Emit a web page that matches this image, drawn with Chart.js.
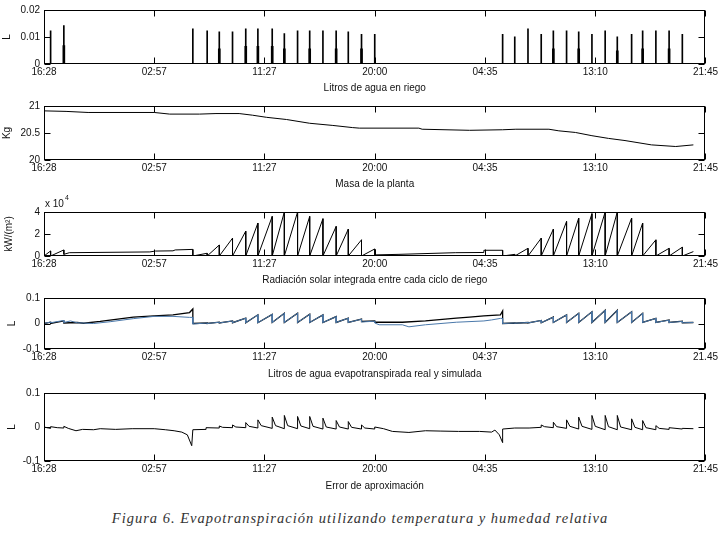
<!DOCTYPE html>
<html>
<head>
<meta charset="utf-8">
<script src="https://cdn.jsdelivr.net/npm/chart.js@4.4.0/dist/chart.umd.min.js"></script>
<style>
  body { margin: 0; background: #fff; }
  #fig { position: relative; width: 720px; height: 534px; }
  canvas { position: absolute; left: 0; }
  #pie { position: absolute; left: 0; top: 510px; width: 720px; text-align: center;
         font: italic 14.5px "Liberation Serif", serif; letter-spacing: 1px; color: #333; }
</style>
</head>
<body>
<div id="fig">
  <canvas id="g1" width="720" height="94" style="top:0px"></canvas>
  <canvas id="g2" width="720" height="94" style="top:96px"></canvas>
  <canvas id="g3" width="720" height="94" style="top:192px"></canvas>
  <canvas id="g4" width="720" height="92" style="top:288px"></canvas>
  <canvas id="g5" width="720" height="109" style="top:383px"></canvas>
  <div id="pie">Figura 6. Evapotranspiración utilizando temperatura y humedad relativa</div>
</div>
<script>
// eje de tiempo: indice de muestra 0..600, etiquetas cada 100
const posHoras = [0, 100, 200, 300, 400, 500, 600];
const horas = ['16:28', '02:57', '11:27', '20:00', '04:35', '13:10', '21:45'];
const horasEt = ['16:28', '02:57', '11:27', '20:00', '04:37', '13:10', '21.45'];

// litros de agua en riego
const riegoT = [6, 18, 135, 148, 159, 171, 183, 194, 207, 218, 230, 241, 253, 265, 276, 288, 300,
  416, 427, 439, 451, 462, 474, 485, 497, 509, 520, 533, 543, 555, 567, 579];
const riegoL = [0.0123, 0.0142, 0.013, 0.0123, 0.0119, 0.0119, 0.013, 0.013, 0.013, 0.0113, 0.0123,
  0.0123, 0.0123, 0.0123, 0.0119, 0.011, 0.011, 0.011, 0.0101, 0.013, 0.011, 0.0123, 0.0123, 0.0119,
  0.011, 0.0123, 0.0101, 0.011, 0.0123, 0.0123, 0.0123, 0.011];
const riegoL2 = [null, 0.0068, null, null, 0.0056, null, 0.0065, 0.0065, 0.0065, 0.0056, null, 0.0056,
  null, 0.0056, null, 0.0056, null, null, null, null, null, 0.0056, null, 0.0056, null, null, 0.0049,
  null, 0.0056, null, 0.0056, null];
const ticksRiego = [0, 0.01, 0.02];

// masa de la planta
const masaT = [0, 20, 40, 100, 114, 141, 156, 177, 189, 202, 220, 241, 262, 280, 286, 340, 343, 386,
  416, 428, 458, 467, 482, 497, 512, 527, 551, 573, 589];
const masaKg = [20.91, 20.9, 20.88, 20.88, 20.85, 20.85, 20.86, 20.86, 20.83, 20.79, 20.75, 20.68,
  20.64, 20.6, 20.59, 20.59, 20.57, 20.55, 20.56, 20.57, 20.57, 20.54, 20.51, 20.45, 20.4, 20.36,
  20.28, 20.25, 20.28];
const ticksMasa = [20, 20.5, 21];

// radiacion solar integrada
const radT = [0, 6, 6, 18, 18, 23, 96, 101, 117, 119, 135, 135, 148, 148, 159, 159, 171, 171, 183, 183,
  194, 194, 207, 207, 218, 218, 230, 230, 241, 241, 253, 253, 265, 265, 276, 276, 288, 288, 300, 300,
  322, 373, 399, 399, 416, 416, 427, 427, 439, 439, 451, 451, 462, 462, 474, 474, 485, 485, 497, 497,
  509, 509, 520, 520, 533, 533, 543, 543, 555, 555, 567, 567, 579, 579, 589];
const radW = [0, 4600, 0, 5500, 1500, 3000, 3700, 4500, 4700, 5500, 6000, 0, 2500, 0, 10000, 0, 16200, 0,
  22600, 0, 29900, 0, 36000, 0, 40000, 0, 40000, 0, 36000, 0, 33900, 0, 26900, 0, 24400, 0, 14700, 0,
  6400, 1000, 1500, 3000, 3200, 5200, 5200, 0, 1500, 0, 7000, 0, 16200, 0, 24400, 0, 31400, 0, 34500, 0,
  38500, 0, 40000, 0, 40000, 0, 34500, 0, 30000, 0, 14700, 0, 7000, 0, 8000, 0, 4000];
const ticksRad = [0, 20000, 40000];

// evapotranspiracion real y simulada
const etRealT = [0, 6, 6, 18, 18, 30, 36, 51, 81, 100, 117, 132, 135, 135, 148, 148, 159, 159, 171, 171,
  183, 183, 194, 194, 207, 207, 218, 218, 230, 230, 241, 241, 253, 253, 265, 265, 276, 276, 288, 288,
  300, 300, 325, 346, 374, 386, 399, 414, 416, 416, 427, 427, 439, 439, 451, 451, 462, 462, 474, 474,
  485, 485, 497, 497, 509, 509, 520, 520, 533, 533, 543, 543, 555, 555, 567, 567, 579, 579, 589];
const etRealL = [0, 0.005, 0, 0.01, 0.002, 0.004, 0.001, 0.008, 0.025, 0.03, 0.034, 0.043, 0.057, 0,
  0.002, 0, 0.005, 0.002, 0.01, 0.003, 0.021, 0.003, 0.034, 0.003, 0.036, 0.004, 0.04, 0.004, 0.04, 0.004,
  0.036, 0.004, 0.034, 0.004, 0.027, 0.004, 0.021, 0.004, 0.017, 0.008, 0.01, 0.005, 0.005, 0.01, 0.021,
  0.025, 0.03, 0.034, 0.049, 0, 0.002, 0.001, 0.004, 0.002, 0.012, 0.003, 0.025, 0.004, 0.034, 0.004,
  0.04, 0.004, 0.046, 0.004, 0.052, 0.004, 0.052, 0.004, 0.046, 0.004, 0.04, 0.004, 0.02, 0.004, 0.014,
  0.004, 0.009, 0.003, 0.004];
const etSimT = [0, 6, 6, 18, 18, 24, 30, 45, 60, 81, 100, 117, 132, 135, 135, 148, 148, 159, 159, 171, 171,
  183, 183, 194, 194, 207, 207, 218, 218, 230, 230, 241, 241, 253, 253, 265, 265, 276, 276, 288, 288,
  300, 300, 304, 325, 331, 346, 374, 399, 406, 414, 416, 416, 427, 427, 439, 439, 451, 451, 462, 462,
  474, 474, 485, 485, 497, 497, 509, 509, 520, 520, 533, 533, 543, 543, 555, 555, 567, 567, 579, 579, 589];
const etSimL = [0, 0.006, 0.003, 0.012, 0.004, 0.01, 0.003, 0, 0.007, 0.019, 0.028, 0.028, 0.024, 0.024,
  -0.002, 0.002, 0, 0.005, 0.002, 0.01, 0.003, 0.021, 0.003, 0.034, 0.003, 0.036, 0.004, 0.04, 0.004,
  0.04, 0.004, 0.036, 0.004, 0.034, 0.004, 0.027, 0.004, 0.021, 0.004, 0.017, 0.006, 0.009, 0.002,
  -0.005, -0.005, -0.013, -0.005, 0.005, 0.01, 0.014, 0.02, 0.02, 0, 0.002, 0.001, 0.004, 0.002, 0.012,
  0.003, 0.025, 0.004, 0.034, 0.004, 0.04, 0.004, 0.046, 0.004, 0.052, 0.004, 0.052, 0.004, 0.046, 0.004,
  0.04, 0.004, 0.02, 0.004, 0.013, 0.004, 0.008, 0.003, 0.004];
const ticksEt = [-0.1, 0, 0.1];

// error de aproximacion
const errT = [0, 4, 6, 6, 12, 18, 18, 22, 29, 35, 45, 51, 65, 80, 100, 110, 118, 125, 130, 134, 135, 147, 147,
  159, 159, 162, 171, 171, 174, 183, 183, 186, 194, 194, 197, 207, 207, 210, 218, 218, 221, 230, 230, 233,
  241, 241, 244, 253, 253, 256, 265, 265, 268, 276, 276, 279, 288, 288, 291, 300, 300,
  308, 316, 331, 346, 360, 376, 395, 406, 409, 413, 416, 416,
  427, 440, 451, 451, 454, 462, 462, 465, 474, 474, 477, 485, 485, 488, 497, 497, 500, 509, 509, 512,
  520, 520, 523, 533, 533, 536, 543, 543, 546, 555, 555, 558, 567, 567, 579, 579, 589];
const errL = [0, -0.003, -0.004, 0.001, -0.002, -0.003, 0.002, -0.004, -0.011, -0.007, -0.008, -0.005,
  -0.007, -0.005, -0.005, -0.008, -0.011, -0.015, -0.023, -0.055, -0.008, -0.007, -0.002,
  -0.003, 0.003, -0.001, -0.002, 0.006, 0, -0.002, 0.013, 0.002, -0.003, 0.021, 0.004, -0.004, 0.029, 0.004,
  -0.005, 0.034, 0.004, -0.005, 0.031, 0.003, -0.005, 0.031, 0.002, -0.006, 0.026, 0, -0.006, 0.019, 0,
  -0.006, 0.016, -0.001, -0.006, 0.006, -0.003, -0.006, 0,
  -0.005, -0.013, -0.016, -0.011, -0.012, -0.013, -0.013, -0.015, -0.009, -0.023, -0.046, -0.006,
  -0.003, -0.003, -0.001, 0.006, 0.001, -0.002, 0.014, 0.001, -0.004, 0.021, 0.002, -0.006, 0.029, 0.002,
  -0.007, 0.034, 0.002, -0.008, 0.034, 0.001, -0.008, 0.034, 0, -0.008, 0.024, -0.001, -0.008, 0.019,
  -0.002, -0.008, 0.004, -0.004, -0.007, -0.002, -0.006, -0.004, -0.005];

Chart.defaults.font.family = '"Liberation Sans", Arial, sans-serif';
Chart.defaults.font.size = 10;
Chart.defaults.color = '#111';

// caja estilo matlab con marcas hacia dentro
const marco = {
  id: 'marco',
  afterDraw(chart, args, opts) {
    const { ctx, chartArea: a, scales: { x, y } } = chart;
    const L = Math.round(a.left) + 0.5, R = Math.round(a.right) - 0.5;
    const T = Math.round(a.top) + 0.5, B = Math.round(a.bottom) - 0.5;
    const len = 6;
    ctx.save();
    ctx.strokeStyle = '#000';
    ctx.lineWidth = 1;
    ctx.strokeRect(L, T, R - L, B - T);
    ctx.beginPath();
    x.ticks.forEach(t => {
      const px = Math.round(x.getPixelForValue(t.value)) + 0.5;
      ctx.moveTo(px, T); ctx.lineTo(px, T + len);
      ctx.moveTo(px, B); ctx.lineTo(px, B - len);
    });
    y.ticks.forEach(t => {
      const py = Math.round(y.getPixelForValue(t.value)) + 0.5;
      ctx.moveTo(L, py); ctx.lineTo(L + len, py);
      ctx.moveTo(R, py); ctx.lineTo(R - len, py);
    });
    ctx.stroke();
    if (opts.exp) {
      ctx.fillStyle = '#111';
      ctx.textAlign = 'left';
      ctx.textBaseline = 'alphabetic';
      ctx.font = '10px "Liberation Sans"';
      ctx.fillText('x 10', a.left + 1, a.top - 5);
      const w = ctx.measureText('x 10').width;
      ctx.font = '7px "Liberation Sans"';
      ctx.fillText(opts.exp, a.left + 2 + w, a.top - 12);
    }
    ctx.restore();
  }
};

function ejeX(etiquetas, titulo, alto) {
  return {
    type: 'linear', min: 0, max: 600, offset: false,
    afterBuildTicks: s => { s.ticks = posHoras.map(v => ({ value: v })); },
    afterFit: s => { s.height = alto; },
    grid: { display: false, drawTicks: false, offset: false },
    border: { display: false },
    ticks: { callback: (v, i) => etiquetas[i], padding: 2, maxRotation: 0, autoSkip: false },
    title: { display: true, text: titulo, padding: 0 }
  };
}

function ejeY(valores, fmt, titulo, min, max, pad) {
  return {
    type: 'linear', min, max,
    afterBuildTicks: s => { s.ticks = valores.map(v => ({ value: v })); },
    afterFit: s => { s.width = 44; },
    grid: { display: false, drawTicks: false },
    border: { display: false },
    ticks: { callback: fmt, padding: 4, autoSkip: false },
    title: { display: true, text: titulo, padding: { top: pad, bottom: 0 } }
  };
}

function linea(ts, vs, color, ancho) {
  return {
    data: ts.map((t, i) => ({ x: t, y: vs[i] })),
    borderColor: color, borderWidth: ancho || 1, pointRadius: 0, tension: 0, fill: false
  };
}

function grafico(id, tipo, datasets, x, y, padTop, extra) {
  return new Chart(document.getElementById(id), {
    type: tipo,
    data: { datasets },
    options: {
      responsive: false, animation: false, events: [],
      layout: { padding: { top: padTop, right: 13, left: 0, bottom: 0 } },
      plugins: { legend: { display: false }, tooltip: { enabled: false }, marco: extra || {} },
      scales: { x, y }
    },
    plugins: [marco]
  });
}

const num = v => String(v);

grafico('g1', 'bar', [
  {
    data: riegoT.map((t, i) => ({ x: t, y: riegoL[i] })),
    backgroundColor: '#000', barThickness: 1, grouped: false, borderWidth: 0
  },
  {
    data: riegoT.map((t, i) => ({ x: t, y: riegoL2[i] })).filter(p => p.y !== null),
    backgroundColor: '#000', barThickness: 2, grouped: false, borderWidth: 0
  }
], ejeX(horas, 'Litros de agua en riego', 30), ejeY(ticksRiego, num, 'L', 0, 0.02, 1.5), 10);

grafico('g2', 'line', [linea(masaT, masaKg, '#000')],
  ejeX(horas, 'Masa de la planta', 30), ejeY(ticksMasa, num, 'Kg', 20, 21, 1), 10);

grafico('g3', 'line', [linea(radT, radW, '#000')],
  ejeX(horas, 'Radiación solar integrada entre cada ciclo de riego', 30),
  ejeY(ticksRad, v => String(v / 10000), 'kW/(m²)', 0, 40000, 3), 20, { exp: '4' });

grafico('g4', 'line', [linea(etSimT, etSimL, '#4a78aa'), linea(etRealT, etRealL, '#000', 1.3)],
  ejeX(horasEt, 'Litros de agua evapotranspirada real y simulada', 31),
  ejeY(ticksEt, num, 'L', -0.1, 0.1, 6), 10);

grafico('g5', 'line', [linea(errT, errL, '#000')],
  ejeX(horas, 'Error de aproximación', 31), ejeY(ticksEt, num, 'L', -0.1, 0.1, 6), 10);
</script>
</body>
</html>
